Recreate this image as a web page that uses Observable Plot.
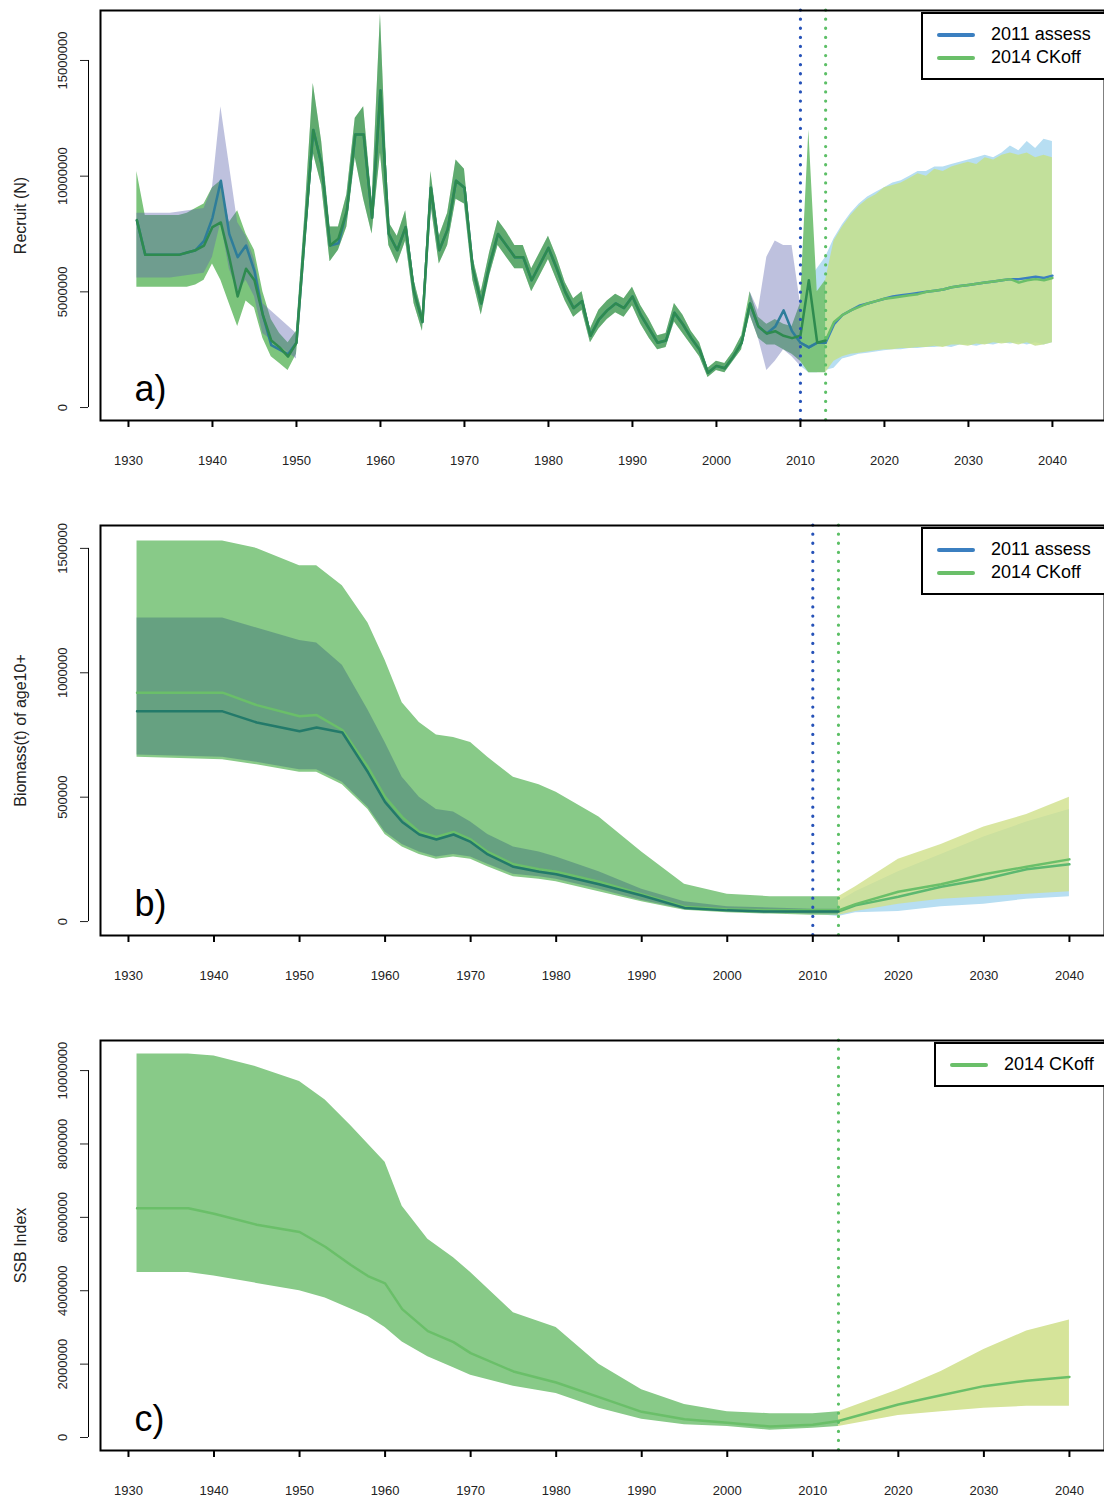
<!DOCTYPE html>
<html>
<head>
<meta charset="utf-8">
<script src="https://cdn.jsdelivr.net/npm/d3@7"></script>
<script src="https://cdn.jsdelivr.net/npm/@observablehq/plot@0.6"></script>
<style>
body { margin: 0; background: #fff; font-family: "Liberation Sans", Arial, sans-serif; }
#wrap { position: relative; width: 1104px; }
.panel { position: relative; }
.legend { position: absolute; background: #fff; border: 2px solid #000; font-size: 18px; padding: 9px 8px 9px 14px; line-height: 23px; }
.legend span.k { display: inline-block; width: 38px; height: 4px; margin-right: 16px; vertical-align: middle; border-radius: 2px; }
</style>
</head>
<body>
<div id="wrap"></div>
<script>
// ---- panel a: recruits (millions) ----
const recYears = d3.range(1931, 2014);
const recMedCK = [8.1,6.6,6.6,6.6,6.6,6.6,6.7,6.8,7.0,7.8,
  8.0,6.5,4.8,6.0,5.5,4.0,2.9,2.6,2.2,2.8,
  7.5,12.0,10.5,7.0,7.3,8.5,11.8,11.8,8.2,13.7,
  7.5,6.8,7.8,5.0,3.7,9.5,6.8,7.7,9.8,9.5,
  6.0,4.5,6.2,7.5,7.0,6.5,6.5,5.5,6.2,6.9,
  6.0,5.0,4.3,4.6,3.1,3.8,4.2,4.5,4.3,4.8,
  4.0,3.4,2.8,2.9,4.1,3.6,3.0,2.5,1.5,1.8,
  1.7,2.2,2.8,4.5,3.5,3.2,3.3,3.1,3.0,3.1,
  5.5,2.8,2.9];
const recLoCK = [5.2,5.2,5.2,5.2,5.2,5.2,5.2,5.3,5.5,6.2,
  5.5,4.5,3.5,4.6,4.3,3.0,2.2,1.9,1.6,2.3,
  6.8,11.0,9.6,6.3,6.8,7.8,10.8,9.0,7.5,11.0,
  7.0,6.2,7.2,4.5,3.3,8.8,6.2,7.0,9.0,8.8,
  5.5,4.0,5.7,7.0,6.5,6.0,6.0,5.0,5.7,6.4,
  5.5,4.6,3.9,4.2,2.8,3.4,3.8,4.1,3.9,4.4,
  3.6,3.0,2.5,2.6,3.7,3.2,2.7,2.2,1.3,1.6,
  1.5,2.0,2.5,4.0,3.0,2.7,2.7,2.5,2.3,2.0,
  1.5,1.5,1.5];
const recHiCK = [10.2,8.3,8.3,8.3,8.3,8.3,8.4,8.6,8.8,9.5,
  9.8,8.0,8.5,7.5,6.8,5.0,3.8,3.2,2.8,3.3,
  8.3,14.0,11.5,7.8,7.8,9.2,12.5,13.0,8.9,17.0,
  8.0,7.4,8.5,5.5,4.1,10.2,7.4,8.4,10.7,10.3,
  6.5,5.0,6.7,8.1,7.6,7.0,7.0,6.0,6.7,7.4,
  6.5,5.4,4.7,5.0,3.4,4.2,4.6,4.9,4.7,5.2,
  4.4,3.8,3.1,3.2,4.5,4.0,3.3,2.8,1.7,2.0,
  1.9,2.4,3.1,5.0,3.9,3.6,3.8,3.6,3.5,4.5,
  12.0,5.0,5.5];
const recMedAs = [8.1,6.6,6.6,6.6,6.6,6.6,6.7,6.8,7.2,8.2,
  9.8,7.5,6.5,7.0,5.9,4.0,2.7,2.5,2.3,2.8,
  7.5,12.0,10.5,7.0,7.1,8.5,11.8,11.8,8.2,13.7,
  7.5,6.8,7.8,5.0,3.7,9.5,6.8,7.7,9.8,9.5,
  6.0,4.5,6.2,7.5,7.0,6.5,6.5,5.5,6.2,6.9,
  6.0,5.0,4.3,4.6,3.1,3.8,4.2,4.5,4.3,4.8,
  4.0,3.4,2.8,2.9,4.1,3.6,3.0,2.5,1.5,1.8,
  1.7,2.2,2.8,4.5,3.5,3.2,3.5,4.2,3.3,2.8,
  2.6,2.8,2.8];
// assess band where it shows outside the CKoff band
const asBandYears = [1931,1935,1939,1940,1941,1942,1943,1944,1945,1946,1950];
const asBandLo = [5.6,5.6,5.8,6.5,8.0,6.0,5.0,5.5,4.8,3.2,2.1];
const asBandHi = [8.4,8.4,8.6,9.5,13.0,10.5,8.0,7.4,6.4,4.5,3.2];
const asBand2Years = [2004,2005,2006,2007,2008,2009,2010];
const asBand2Lo = [4.0,3.0,1.6,2.0,2.5,2.2,1.8];
const asBand2Hi = [5.0,4.2,6.5,7.2,7.0,7.0,4.5];
// projections
const projYearsCK = d3.range(2013, 2041);
const projMedCK = [2.9,3.7,4.0,4.2,4.35,4.5,4.6,4.7,4.75,4.8,4.85,4.9,5.0,5.05,5.1,5.2,5.25,5.3,5.35,5.4,5.45,5.5,5.55,5.4,5.5,5.55,5.5,5.6];
const projHiCK = [5.5,7.2,7.8,8.3,8.7,9.0,9.2,9.5,9.6,9.7,9.9,10.1,10.0,10.3,10.2,10.4,10.5,10.6,10.5,10.8,10.7,10.9,11.0,10.9,11.0,10.8,10.9,10.8];
const projLoCK = [1.5,2.0,2.2,2.3,2.35,2.4,2.45,2.5,2.5,2.55,2.55,2.6,2.6,2.65,2.6,2.7,2.7,2.65,2.75,2.7,2.8,2.75,2.8,2.7,2.8,2.65,2.7,2.8];
const projYearsAs = d3.range(2010, 2041);
const projMedAs = [2.8,2.6,2.8,2.8,3.6,4.0,4.2,4.4,4.5,4.6,4.7,4.8,4.85,4.9,4.95,5.0,5.05,5.1,5.2,5.25,5.3,5.35,5.4,5.45,5.5,5.55,5.55,5.6,5.65,5.6,5.7];
const projHiAs = [4.5,5.5,6.0,6.5,7.3,7.9,8.4,8.8,9.1,9.3,9.5,9.7,9.8,10.0,10.2,10.2,10.4,10.4,10.5,10.6,10.7,10.8,10.9,10.8,11.0,11.3,11.1,11.5,11.2,11.6,11.5];
const projLoAs = [1.8,1.5,1.5,1.6,1.7,2.1,2.2,2.3,2.35,2.4,2.45,2.5,2.5,2.55,2.55,2.6,2.6,2.65,2.6,2.7,2.7,2.65,2.75,2.7,2.8,2.75,2.8,2.7,2.8,2.7,2.8];

// ---- panel b: biomass age10+ (millions t) ----
const bYears = [1931,1941,1945,1950,1952,1955,1958,1960,1962,1964,1966,1968,1970,1972,1975,1978,1980,1985,1990,1995,2000,2005,2010,2013];
const bMedCK = [0.92,0.92,0.87,0.825,0.83,0.77,0.62,0.50,0.42,0.36,0.34,0.36,0.33,0.28,0.23,0.21,0.20,0.16,0.11,0.06,0.05,0.045,0.045,0.045];
const bMedAs = [0.845,0.845,0.8,0.765,0.78,0.76,0.6,0.48,0.40,0.35,0.33,0.35,0.32,0.27,0.22,0.20,0.19,0.15,0.105,0.055,0.045,0.04,0.04,0.04];
const bHiCK = [1.53,1.53,1.50,1.43,1.43,1.35,1.2,1.05,0.88,0.8,0.75,0.74,0.72,0.66,0.58,0.55,0.52,0.42,0.28,0.15,0.11,0.10,0.10,0.10];
const bLoCK = [0.66,0.65,0.63,0.60,0.60,0.55,0.45,0.35,0.30,0.27,0.25,0.26,0.25,0.22,0.18,0.17,0.16,0.12,0.08,0.045,0.035,0.03,0.025,0.025];
const bHiAs = [1.22,1.22,1.18,1.13,1.12,1.03,0.85,0.72,0.58,0.50,0.45,0.44,0.40,0.35,0.30,0.28,0.26,0.2,0.13,0.08,0.06,0.055,0.05,0.05];
const bLoAs = [0.67,0.66,0.64,0.61,0.61,0.56,0.46,0.36,0.31,0.28,0.26,0.27,0.26,0.23,0.19,0.18,0.17,0.13,0.085,0.05,0.04,0.035,0.03,0.03];
const bpYearsCK = [2013,2015,2020,2025,2030,2035,2040];
const bpMedCK = [0.045,0.07,0.12,0.15,0.19,0.22,0.25];
const bpHiCK = [0.10,0.14,0.25,0.31,0.38,0.43,0.50];
const bpLoCK = [0.025,0.04,0.07,0.09,0.10,0.11,0.12];
const bpYearsAs = [2010,2013,2015,2020,2025,2030,2035,2040];
const bpMedAs = [0.04,0.04,0.065,0.10,0.14,0.17,0.21,0.23];
const bpHiAs = [0.05,0.08,0.12,0.2,0.27,0.34,0.40,0.45];
const bpLoAs = [0.03,0.02,0.035,0.04,0.06,0.07,0.09,0.10];

// ---- panel c: SSB index (millions) ----
const cYears = [1931,1937,1940,1945,1950,1953,1956,1958,1960,1962,1965,1968,1970,1975,1980,1985,1990,1995,2000,2005,2010,2013];
const cMed = [6.25,6.25,6.1,5.8,5.6,5.2,4.7,4.4,4.2,3.5,2.9,2.6,2.3,1.8,1.5,1.1,0.7,0.5,0.4,0.3,0.35,0.45];
const cHi = [10.45,10.45,10.4,10.1,9.7,9.2,8.5,8.0,7.5,6.3,5.4,4.9,4.5,3.4,3.0,2.0,1.3,0.9,0.7,0.65,0.65,0.7];
const cLo = [4.5,4.5,4.4,4.2,4.0,3.8,3.5,3.3,3.0,2.6,2.2,1.9,1.7,1.4,1.2,0.8,0.5,0.35,0.3,0.2,0.25,0.3];
const cpYears = [2013,2020,2025,2030,2035,2040];
const cpMed = [0.45,0.9,1.15,1.4,1.55,1.65];
const cpHi = [0.7,1.3,1.8,2.4,2.9,3.2];
const cpLo = [0.3,0.6,0.7,0.8,0.85,0.85];

const xTicks = d3.range(1930, 2041, 10);
const GREEN = "#6abf69", BLUE = "#3b7fc0", CKBAND = "#7cc47c", ASBAND = "#5c63ad";

function tbl(years, med, lo, hi, k) {
  return years.map((y, i) => ({year: y, med: med[i] * k, lo: lo ? lo[i] * k : null, hi: hi ? hi[i] * k : null}));
}

function panel({height, marginBottom, xDomain, yDomain, yTicks, yLabel, letter, marks, vlines, legend, legendTop, legendLeft}) {
  const vl = vlines.map(([yr, c]) => Plot.ruleX([yr], {stroke: c, strokeWidth: 3.2, strokeDasharray: "0.1,9", strokeLinecap: "round"}));
  const chart = Plot.plot({
    width: 1104, height, marginLeft: 100, marginRight: 0, marginTop: 10, marginBottom,
    style: {fontFamily: "Liberation Sans, Arial, sans-serif", fontSize: "13px", color: "#222"},
    x: {domain: xDomain},
    y: {domain: yDomain},
    marks: [
      ...marks,
      ...vl,
      Plot.text([letter], {frameAnchor: "bottom-left", dx: 34, dy: -20, fontSize: 36, fill: "#000", textAnchor: "start"}),
      Plot.frame({stroke: "#000", strokeWidth: 2}),
      Plot.axisX({ticks: xTicks, tickFormat: d => String(d), tickSize: 7, tickPadding: 28, label: null, stroke: "#000", strokeWidth: 2}),
      Plot.axisY({ticks: yTicks, tickFormat: d3.format("d"), tickSize: 8, tickRotate: -90, dx: -12, tickPadding: 14, label: null, fontSize: 13}),
      Plot.ruleX([xDomain[0]], {y1: yTicks[0], y2: yTicks[yTicks.length - 1], dx: -12, stroke: "#000"}),
      Plot.text([yLabel], {frameAnchor: "left", dx: -80, rotate: -90, textAnchor: "middle", fontSize: 16, fill: "#222"})
    ]
  });
  const div = document.createElement("div");
  div.className = "panel";
  div.appendChild(chart);
  const lg = document.createElement("div");
  lg.className = "legend";
  lg.style.top = legendTop + "px";
  lg.style.left = legendLeft + "px";
  lg.style.right = "-2px";
  lg.innerHTML = legend.map(([c, t]) => `<div><span class="k" style="background:${c}"></span>${t}</div>`).join("");
  div.appendChild(lg);
  document.getElementById("wrap").appendChild(div);
}

// panel a
const M = 1e6;
const aCK = tbl(recYears, recMedCK, recLoCK, recHiCK, M);
const aAs = tbl(recYears, recMedAs, null, null, M);
const aAsB1 = tbl(asBandYears, asBandLo, asBandLo, asBandHi, M);
const aAsB2 = tbl(asBand2Years, asBand2Lo, asBand2Lo, asBand2Hi, M);
const aPCK = tbl(projYearsCK, projMedCK, projLoCK, projHiCK, M);
const aPAs = tbl(projYearsAs, projMedAs, projLoAs, projHiAs, M);
panel({
  height: 515, marginBottom: 95, xDomain: [1926.67, 2046.2], yDomain: [-0.56e6, 17.16e6],
  yTicks: [0, 5e6, 10e6, 15e6], yLabel: "Recruit (N)", letter: "a)",
  vlines: [[2010, "#2652b8"], [2013, "#5cbf66"]],
  legend: [[BLUE, "2011 assess"], [GREEN, "2014 CKoff"]], legendTop: 12, legendLeft: 921,
  marks: [
    Plot.areaY(aPAs, {x: "year", y1: "lo", y2: "hi", fill: "#b7def2"}),
    Plot.areaY(aPCK, {x: "year", y1: "lo", y2: "hi", fill: "#c4e08c", fillOpacity: 0.85}),
    Plot.areaY(aCK, {x: "year", y1: "lo", y2: "hi", fill: CKBAND}),
    Plot.areaY(aAsB1, {x: "year", y1: "lo", y2: "hi", fill: ASBAND, fillOpacity: 0.4}),
    Plot.areaY(aAsB2, {x: "year", y1: "lo", y2: "hi", fill: ASBAND, fillOpacity: 0.4}),
    Plot.areaY(aCK, {x: "year", y1: "lo", y2: "hi", fill: "#2f7a5a", fillOpacity: 0.35, filter: d => d.year > 1949 && d.year < 2004}),
    Plot.lineY(aPAs, {x: "year", y: "med", stroke: BLUE, strokeWidth: 2.5}),
    Plot.lineY(aPCK, {x: "year", y: "med", stroke: GREEN, strokeWidth: 2.5}),
    Plot.lineY(aAs, {x: "year", y: "med", stroke: "#2e7d9a", strokeWidth: 2.5}),
    Plot.lineY(aCK, {x: "year", y: "med", stroke: "#2e8b4f", strokeWidth: 2.5})
  ]
});

// panel b
const bCK = tbl(bYears, bMedCK, bLoCK, bHiCK, M);
const bAs = tbl(bYears, bMedAs, bLoAs, bHiAs, M);
const bPCK = tbl(bpYearsCK, bpMedCK, bpLoCK, bpHiCK, M);
const bPAs = tbl(bpYearsAs, bpMedAs, bpLoAs, bpHiAs, M);
panel({
  height: 515, marginBottom: 95, xDomain: [1926.73, 2044.1], yDomain: [-0.056e6, 1.592e6],
  yTicks: [0, 5e5, 1e6, 1.5e6], yLabel: "Biomass(t) of age10+", letter: "b)",
  vlines: [[2010, "#2652b8"], [2013, "#5cbf66"]],
  legend: [[BLUE, "2011 assess"], [GREEN, "2014 CKoff"]], legendTop: 12, legendLeft: 921,
  marks: [
    Plot.areaY(bPAs, {x: "year", y1: "lo", y2: "hi", fill: "#b7def2"}),
    Plot.areaY(bPCK, {x: "year", y1: "lo", y2: "hi", fill: "#cfe08a", fillOpacity: 0.8}),
    Plot.areaY(bCK, {x: "year", y1: "lo", y2: "hi", fill: "#88ca88"}),
    Plot.areaY(bAs, {x: "year", y1: "lo", y2: "hi", fill: "#3f6f7a", fillOpacity: 0.45}),
    Plot.lineY(bPAs, {x: "year", y: "med", stroke: "#5cb870", strokeWidth: 2.5}),
    Plot.lineY(bPCK, {x: "year", y: "med", stroke: GREEN, strokeWidth: 2.5}),
    Plot.lineY(bCK, {x: "year", y: "med", stroke: GREEN, strokeWidth: 2.5}),
    Plot.lineY(bAs, {x: "year", y: "med", stroke: "#237a6a", strokeWidth: 2.5})
  ]
});

// panel c
const cCK = tbl(cYears, cMed, cLo, cHi, M);
const cPCK = tbl(cpYears, cpMed, cpLo, cpHi, M);
panel({
  height: 469, marginBottom: 49, xDomain: [1926.73, 2044.1], yDomain: [-0.354e6, 10.82e6],
  yTicks: [0, 2e6, 4e6, 6e6, 8e6, 10e6], yLabel: "SSB Index", letter: "c)",
  vlines: [[2013, "#5cbf66"]],
  legend: [[GREEN, "2014 CKoff"]], legendTop: 12, legendLeft: 934,
  marks: [
    Plot.areaY(cPCK, {x: "year", y1: "lo", y2: "hi", fill: "#d6e49a"}),
    Plot.areaY(cCK, {x: "year", y1: "lo", y2: "hi", fill: "#88ca88"}),
    Plot.lineY(cPCK, {x: "year", y: "med", stroke: GREEN, strokeWidth: 2.5}),
    Plot.lineY(cCK, {x: "year", y: "med", stroke: GREEN, strokeWidth: 2.5})
  ]
});
</script>
</body>
</html>
